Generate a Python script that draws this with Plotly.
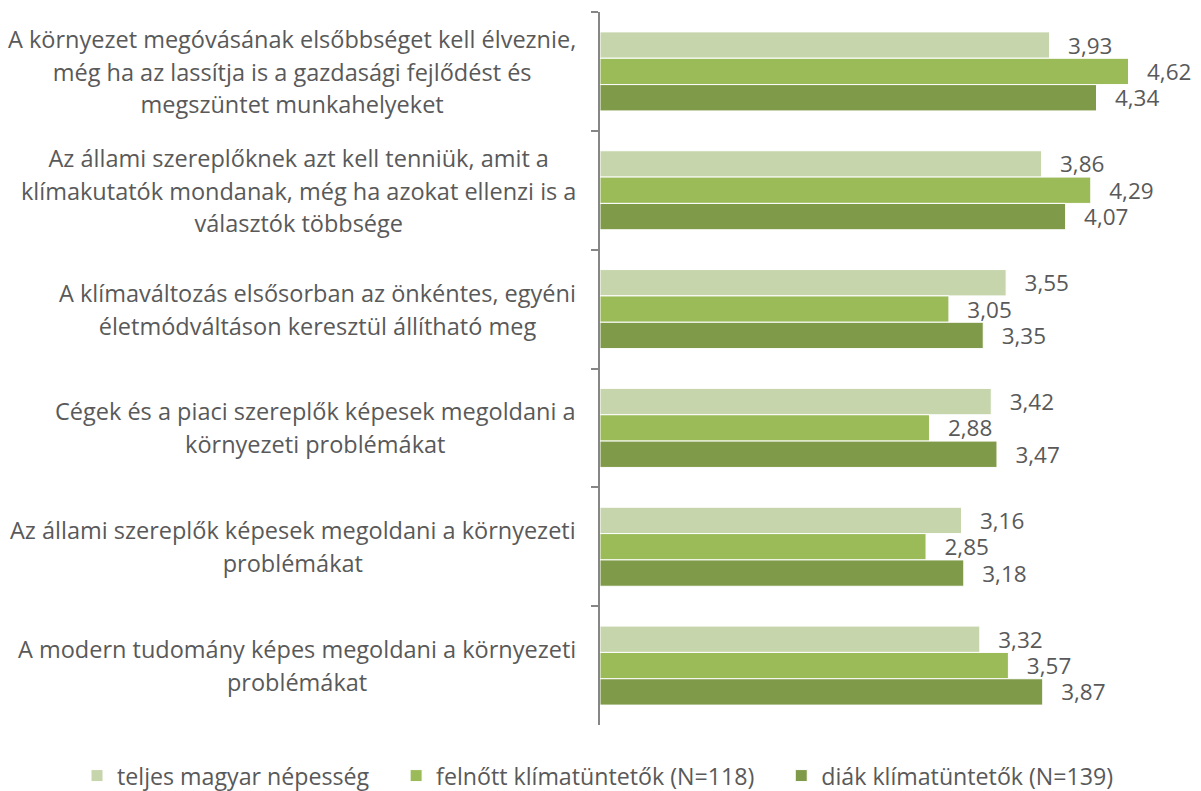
import plotly.graph_objects as go

categories = [
    "A környezet megóvásának elsőbbséget kell élveznie,<br>még ha az lassítja is a gazdasági fejlődést és<br>megszüntet munkahelyeket",
    "Az állami szereplőknek azt kell tenniük, amit a<br>klímakutatók mondanak, még ha azokat ellenzi is a<br>választók többsége",
    "A klímaváltozás elsősorban az önkéntes, egyéni<br>életmódváltáson keresztül állítható meg",
    "Cégek és a piaci szereplők képesek megoldani a<br>környezeti problémákat",
    "Az állami szereplők képesek megoldani a környezeti<br>problémákat",
    "A modern tudomány képes megoldani a környezeti<br>problémákat",
]
series_names = [
    "teljes magyar népesség",
    "felnőtt klímatüntetők (N=118)",
    "diák klímatüntetők (N=139)",
]
teljes = [3.93, 3.86, 3.55, 3.42, 3.16, 3.32]
felnott = [4.62, 4.29, 3.05, 2.88, 2.85, 3.57]
diak = [4.34, 4.07, 3.35, 3.47, 3.18, 3.87]
colors = ["#C6D5AC", "#9BBB59", "#7F9A48"]

FONT = "Open Sans"
TXT = "#595959"
FS_LABEL = 23.5
FS_VAL = 22.5
FS_LEG = 23.2

# the page body offsets the figure by 8px; keep the figure inside the window
W, H = 1193, 783
PL, PT, PR, PB = 592, 4, 29, 66

fig = go.Figure()
for name, vals, col in zip(series_names, [teljes, felnott, diak], colors):
    fig.add_trace(go.Bar(
        y=categories, x=vals, name=name + "\u00a0" * 3 + "\u2009", orientation="h",
        marker=dict(color=col, line=dict(color="white", width=1)),
        texttemplate="\u00a0\u00a0\u2009%{x:.2f}", textposition="outside",
        textfont=dict(family=FONT, size=FS_VAL, color=TXT),
        cliponaxis=False, constraintext="none",
    ))

# category labels: centered lines, ~32px line spacing
LS = 32.5 / 1.3
for cat in categories:
    lines = cat.split("<br>")
    txt = "<br>".join(f"<span style='font-size:{FS_LABEL}px'>{ln}</span>" for ln in lines)
    fig.add_annotation(
        x=0, xref="paper", y=cat, yref="y", xanchor="right", yanchor="middle",
        xshift=-22, text=txt, showarrow=False, align="center",
        font=dict(family=FONT, size=LS, color=TXT),
    )

plot_w = W - PL - PR
plot_h = H - PT - PB
fig.update_layout(
    template="none",
    width=W, height=H,
    margin=dict(l=PL, r=PR, t=PT, b=PB, pad=0, autoexpand=False),
    plot_bgcolor="white", paper_bgcolor="white",
    barmode="group", bargap=0.335, bargroupgap=0,
    separators=",.",
    showlegend=True,
    legend=dict(orientation="h", x=(69 - PL) / plot_w, xanchor="left",
                y=-(768 - (H - PB)) / plot_h, yanchor="middle",
                font=dict(family=FONT, size=FS_LEG, color=TXT), traceorder="normal",
                bgcolor="rgba(0,0,0,0)"),
    font=dict(family=FONT, color=TXT),
)
fig.update_xaxes(range=[0, 5], visible=False, showgrid=False, zeroline=False, automargin=False)
fig.update_yaxes(
    type="category", range=[5.5, -0.5], showticklabels=False, automargin=False,
    showline=True, linecolor="#868686", linewidth=1.5,
    ticks="outside", tickson="boundaries", ticklen=7, tickcolor="#868686", tickwidth=1.5,
    showgrid=False, zeroline=False,
)

fig.write_html("out.html")
